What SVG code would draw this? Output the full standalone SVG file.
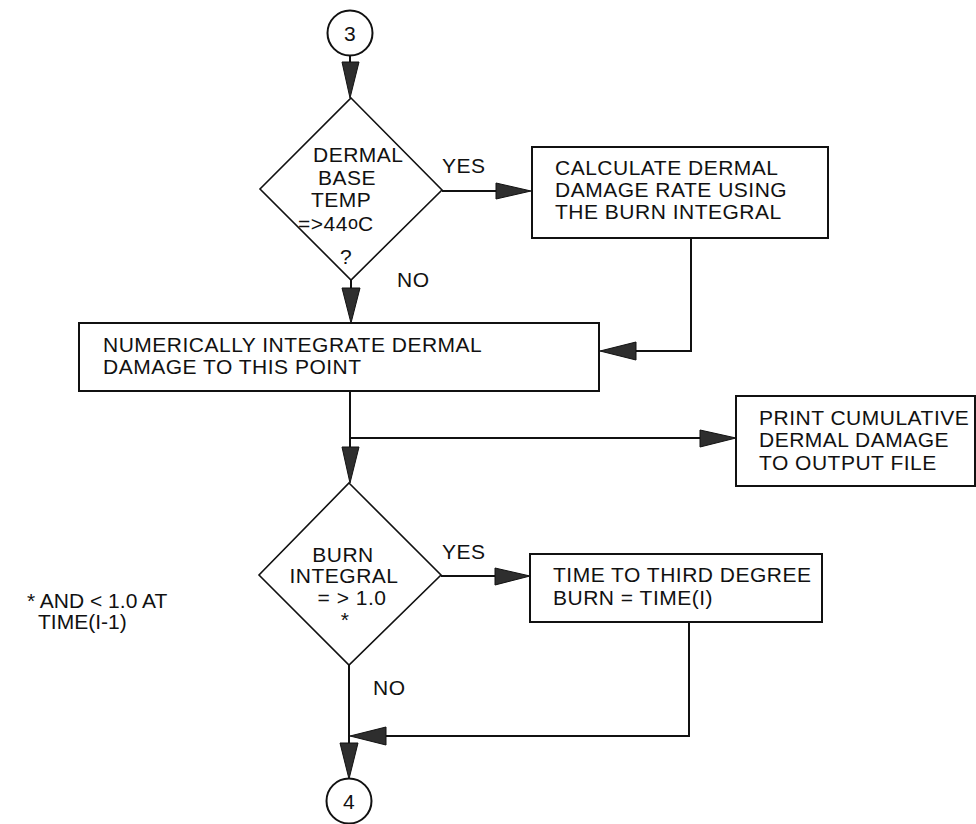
<svg xmlns="http://www.w3.org/2000/svg" width="976" height="824" viewBox="0 0 976 824">
<style>
.shape{fill:#fff;stroke:#111;stroke-width:2}
.dia{fill:none;stroke:#111;stroke-width:1.6}
.ln{fill:none;stroke:#111;stroke-width:2}
.ah{fill:#2e2e2e;stroke:#111;stroke-width:1}
text{font-family:"Liberation Sans",Arial,Helvetica,sans-serif;font-size:21px;letter-spacing:0.5px;fill:#111}
.c{text-anchor:middle}
.fn{letter-spacing:0}
</style>
<rect width="976" height="824" fill="#fff"/>
<g id="connectors">
  <line class="ln" x1="350" y1="55" x2="350" y2="64"/>
  <polygon class="ah" points="342,62 359,62 350,98"/>
  <line class="ln" x1="442" y1="191" x2="498" y2="191"/>
  <polygon class="ah" points="496,183 496,199 531,191"/>
  <line class="ln" x1="351" y1="280" x2="351" y2="290"/>
  <polygon class="ah" points="342,288 360,288 351,323"/>
  <polyline class="ln" points="691,238 691,351 634,351"/>
  <polygon class="ah" points="636,342 636,360 600,351"/>
  <line class="ln" x1="350" y1="391" x2="350" y2="449"/>
  <polygon class="ah" points="342,447 359,447 350,483"/>
  <line class="ln" x1="350" y1="438" x2="702" y2="438"/>
  <polygon class="ah" points="700,430 700,447 736,438"/>
  <line class="ln" x1="441" y1="576" x2="497" y2="576"/>
  <polygon class="ah" points="495,568 495,585 530,576"/>
  <line class="ln" x1="349" y1="665" x2="349" y2="745"/>
  <polygon class="ah" points="340,743 358,743 349,779"/>
  <polyline class="ln" points="689,622 689,736 384,736"/>
  <polygon class="ah" points="386,727 386,745 350,736"/>
</g>
<g id="start3">
  <circle class="shape" cx="350" cy="33" r="22.5"/>
  <text class="c" x="350" y="41">3</text>
</g>
<g id="decision1">
  <polygon class="dia" points="351,98 442,190 351,280 260,189"/>
  <text x="313" y="162">DERMAL</text>
  <text x="318" y="185">BASE</text>
  <text x="311" y="207">TEMP</text>
  <text x="298" y="231" letter-spacing="1.5">=&gt;44<tspan font-size="18" dy="-2" letter-spacing="0">o</tspan><tspan dy="2" letter-spacing="0">C</tspan></text>
  <text x="340" y="264">?</text>
  <text x="442" y="173">YES</text>
  <text x="397" y="287">NO</text>
</g>
<g id="calcRate">
  <rect class="shape" x="532" y="147" width="296" height="91"/>
  <text x="555" y="175">CALCULATE DERMAL</text>
  <text x="555" y="197">DAMAGE RATE USING</text>
  <text x="555" y="219">THE BURN INTEGRAL</text>
</g>
<g id="integrate">
  <rect class="shape" x="79" y="323" width="520" height="68"/>
  <text x="103" y="352">NUMERICALLY INTEGRATE DERMAL</text>
  <text x="103" y="374">DAMAGE TO THIS POINT</text>
</g>
<g id="printDamage">
  <rect class="shape" x="736" y="396" width="239" height="90"/>
  <text x="759" y="425">PRINT CUMULATIVE</text>
  <text x="759" y="447">DERMAL DAMAGE</text>
  <text x="759" y="470">TO OUTPUT FILE</text>
</g>
<g id="decision2">
  <polygon class="dia" points="349,483 441,575 349,665 259,575"/>
  <text class="c" x="343" y="562">BURN</text>
  <text class="c" x="344" y="583">INTEGRAL</text>
  <text class="c" x="352" y="605">= &gt; 1.0</text>
  <text class="c" x="345" y="627">*</text>
  <text x="442" y="559">YES</text>
  <text x="373" y="695">NO</text>
</g>
<g id="thirdDegree">
  <rect class="shape" x="530" y="554" width="292" height="68"/>
  <text x="553" y="582">TIME TO THIRD DEGREE</text>
  <text x="553" y="605">BURN = TIME(I)</text>
</g>
<g id="footnote">
  <text class="fn" x="27" y="608">* AND &lt; 1.0 AT</text>
  <text class="fn" x="38" y="629">TIME(I-1)</text>
</g>
<g id="end4">
  <circle class="shape" cx="349" cy="801" r="22.5"/>
  <text class="c" x="349" y="809">4</text>
</g>
</svg>
